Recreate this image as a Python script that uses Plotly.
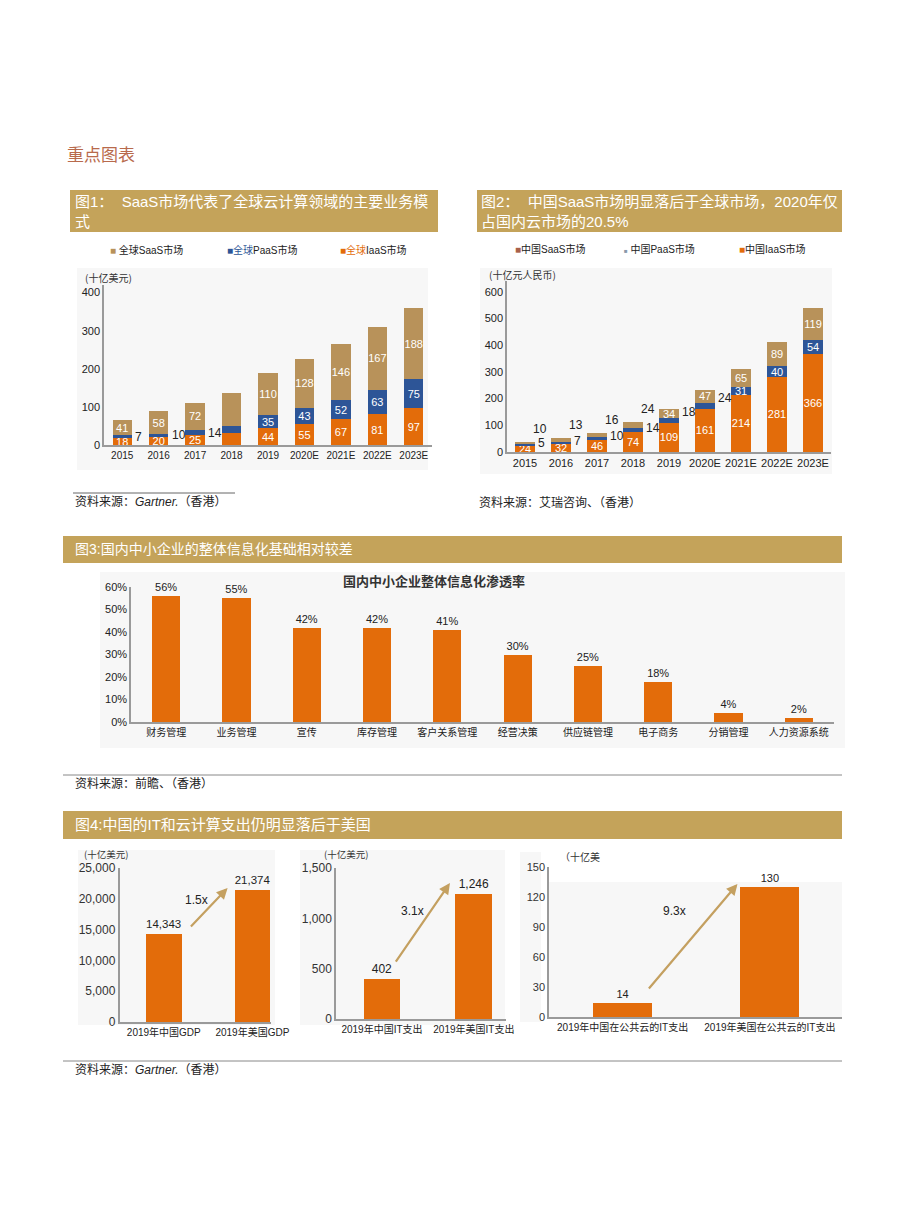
import plotly.graph_objects as go

# ---------------- data ----------------
years = ["2015", "2016", "2017", "2018", "2019", "2020E", "2021E", "2022E", "2023E"]
global_saas = [41, 58, 72, 86, 110, 128, 146, 167, 188]
global_paas = [7, 10, 14, 18, 35, 43, 52, 63, 75]
global_iaas = [18, 20, 25, 32, 44, 55, 67, 81, 97]

china_iaas = [24, 32, 46, 74, 109, 161, 214, 281, 366]
china_paas = [5, 7, 10, 14, 18, 24, 31, 40, 54]
china_saas = [10, 13, 16, 24, 34, 47, 65, 89, 119]

sme_cats = ["财务管理", "业务管理", "宣传", "库存管理", "客户关系管理", "经营决策", "供应链管理", "电子商务", "分销管理", "人力资源系统"]
sme_vals = [56, 55, 42, 42, 41, 30, 25, 18, 4, 2]
pct_ticks = [0, 10, 20, 30, 40, 50, 60]

gdp_cats = ["2019年中国GDP", "2019年美国GDP"]
gdp_vals = [14343, 21374]
it_cats = ["2019年中国IT支出", "2019年美国IT支出"]
it_vals = [402, 1246]
cloud_cats = ["2019年中国在公共云的IT支出", "2019年美国在公共云的IT支出"]
cloud_vals = [14, 130]
ratios = ["1.5x", "3.1x", "9.3x"]

# ---------------- style ----------------
W, H = 920, 1223
ORANGE = "#E36C0A"
BLUE = "#2D5597"
TAN = "#B8925A"
HEAD = "#C4A35A"
FONT = "Liberation Sans, Noto Sans CJK SC, sans-serif"
CJK = "Noto Sans CJK SC, sans-serif"
DARK = "#222222"


def fx(p):
    return p / W


def fy(p):
    return 1 - p / H


fig = go.Figure()
shapes = []
ann = []


def rect(x0, y0, x1, y1, color, layer="below"):
    shapes.append(dict(type="rect", xref="paper", yref="paper", x0=fx(x0), x1=fx(x1),
                       y0=fy(y1), y1=fy(y0), fillcolor=color, line=dict(width=0), layer=layer))


def hline(x0, x1, y, color="#888888", width=1):
    shapes.append(dict(type="line", xref="paper", yref="paper", x0=fx(x0), x1=fx(x1),
                       y0=fy(y), y1=fy(y), line=dict(color=color, width=width)))


def note(x, y, text, size=10, color=DARK, xanchor="left", yanchor="middle", family=FONT, **kw):
    d = dict(x=fx(x), y=fy(y), xref="paper", yref="paper", text=text, showarrow=False,
             xanchor=xanchor, yanchor=yanchor, font=dict(size=size, color=color, family=family))
    d.update(kw)
    ann.append(d)


# ---------------- page furniture ----------------
note(65, 153, "重点图表", size=17, color="#B86A4C", family=CJK)

rect(70, 190, 438, 232, HEAD)
note(73, 201, "图1：  SaaS市场代表了全球云计算领域的主要业务模", size=15, color="white")
note(73, 222, "式", size=15, color="white")
rect(477, 190, 842, 232, HEAD)
note(479, 201, "图2：  中国SaaS市场明显落后于全球市场，2020年仅", size=15, color="white")
note(479, 222, "占国内云市场的20.5%", size=15, color="white")

rect(63, 536, 842, 563, HEAD)
note(73, 549, "图3:国内中小企业的整体信息化基础相对较差", size=14, color="white")
rect(63, 811, 842, 839, HEAD)
note(73, 824, "图4:中国的IT和云计算支出仍明显落后于美国", size=15, color="white")

# sources
hline(73, 235, 493, "#666666")
note(73, 502, "资料来源：<i>Gartner.</i>（香港）", size=12)
note(477, 502, "资料来源：艾瑞咨询、（香港）", size=12)
hline(63, 842, 775, "#888888")
note(73, 783, "资料来源：前瞻、（香港）", size=12)
hline(63, 842, 1061, "#888888")
note(73, 1070, "资料来源：<i>Gartner.</i>（香港）", size=12)

# background panels
rect(77, 268, 428, 470, "#F7F7F7")
rect(480, 268, 832, 474, "#F7F7F7")
rect(100, 572, 845, 748, "#F7F7F7")
rect(78, 850, 275, 1025, "#F7F7F7")
rect(300, 850, 505, 1025, "#F7F7F7")
rect(520, 852, 541, 1022, "#F7F7F7")
rect(548, 882, 842, 1017, "#F7F7F7")

# ---------------- chart 1: global ----------------
txt_i = [str(v) if y != "2018" else "" for v, y in zip(global_iaas, years)]
txt_p = [str(v) if i >= 4 else "" for i, v in enumerate(global_paas)]
txt_s = [str(v) if y != "2018" else "" for v, y in zip(global_saas, years)]
common1 = dict(width=0.53, textposition="inside", insidetextanchor="middle", constraintext="none",
               textangle=0, textfont=dict(color="white", size=11, family=FONT), marker_line_width=0)
fig.add_bar(x=years, y=global_iaas, text=txt_i, marker_color=ORANGE, xaxis="x", yaxis="y", **common1)
fig.add_bar(x=years, y=global_paas, text=txt_p, marker_color=BLUE, xaxis="x", yaxis="y", **common1)
fig.add_bar(x=years, y=global_saas, text=txt_s, marker_color=TAN, xaxis="x", yaxis="y", **common1)
for i in range(3):
    ann.append(dict(x=i, y=global_iaas[i] + global_paas[i] / 2, xref="x", yref="y",
                    text=str(global_paas[i]), showarrow=False, xanchor="left", xshift=11,
                    font=dict(size=12, color=DARK, family=FONT)))

note(83, 277, "(十亿美元)", size=10, color="#333", family=CJK)
note(108, 250, "<span style='color:%s'>■</span> 全球SaaS市场" % TAN, size=10)
note(225, 250, "<span style='color:%s'>■全球</span>PaaS市场" % BLUE, size=10)
note(338, 250, "<span style='color:%s'>■全球</span>IaaS市场" % ORANGE, size=10)

# ---------------- chart 2: China ----------------
fig.add_bar(x=years, y=china_iaas, text=[str(v) for v in china_iaas], marker_color=ORANGE,
            xaxis="x2", yaxis="y2", **common1)
fig.add_bar(x=years, y=china_paas, text=[str(v) if i >= 6 else "" for i, v in enumerate(china_paas)],
            marker_color=BLUE, xaxis="x2", yaxis="y2", **common1)
fig.add_bar(x=years, y=china_saas, text=[str(v) if i >= 4 else "" for i, v in enumerate(china_saas)],
            marker_color=TAN, xaxis="x2", yaxis="y2", **common1)
for i in range(6):
    ann.append(dict(x=i, y=china_iaas[i] + china_paas[i] / 2, xref="x2", yref="y2",
                    text=str(china_paas[i]), showarrow=False, xanchor="left", xshift=11,
                    yshift=2 if i < 4 else 8, font=dict(size=12, color=DARK, family=FONT)))
for i in range(4):
    tot = china_iaas[i] + china_paas[i] + china_saas[i]
    ann.append(dict(x=i, y=tot, xref="x2", yref="y2",
                    text=str(china_saas[i]), showarrow=False, xanchor="left", yanchor="bottom",
                    xshift=6, yshift=4, font=dict(size=12, color=DARK, family=FONT)))

note(487, 274, "(十亿元人民币)", size=10, color="#333", family=CJK)
note(513, 249, "<span style='color:#A8604A'>■</span>中国SaaS市场", size=10)
note(622, 249, "<span style='color:#8899AA;font-size:6px'>■</span> 中国PaaS市场", size=10)
note(737, 249, "<span style='color:%s'>■</span>中国IaaS市场" % ORANGE, size=10)

# ---------------- chart 3: SME penetration ----------------
fig.add_bar(x=sme_cats, y=sme_vals, text=[f"{v}%" for v in sme_vals], textposition="outside",
            cliponaxis=False, width=0.4, marker_color=ORANGE, marker_line_width=0,
            textfont=dict(size=11, color=DARK, family=FONT), xaxis="x3", yaxis="y3")
note(434, 580, "<b>国内中小企业整体信息化渗透率</b>", size=13, color="#333", xanchor="center", family=CJK)

# ---------------- chart 4: China vs US ----------------
common4 = dict(width=0.4, textposition="outside", cliponaxis=False, marker_color=ORANGE,
               marker_line_width=0, textfont=dict(size=12, color=DARK, family=FONT))
fig.add_bar(x=gdp_cats, y=gdp_vals, text=[f"{v:,}" for v in gdp_vals], xaxis="x4", yaxis="y4", **common4)
fig.add_bar(x=it_cats, y=it_vals, text=[f"{v:,}" for v in it_vals], xaxis="x5", yaxis="y5", **common4)
fig.add_bar(x=cloud_cats, y=cloud_vals, text=[str(v) for v in cloud_vals], xaxis="x6", yaxis="y6",
            **{**common4, "textfont": dict(size=11, color=DARK, family=FONT)})

arrows = [("x4", "y4", 0.29, 15260, 0.72, 21750, 0.37, 19800),
          ("x5", "y5", 0.14, 556, 0.74, 1351, 0.33, 1073),
          ("x6", "y6", 0.17, 27, 0.78, 133, 0.35, 106)]
for (xa, ya, tx, ty, hx, hy, lx, ly), r in zip(arrows, ratios):
    ann.append(dict(x=hx, y=hy, xref=xa, yref=ya, ax=tx, ay=ty, axref=xa, ayref=ya, text="",
                    showarrow=True, arrowhead=2, arrowsize=1, arrowwidth=2.2, arrowcolor="#C4A060"))
    ann.append(dict(x=lx, y=ly, xref=xa, yref=ya, text=r, showarrow=False,
                    font=dict(size=12, color=DARK, family=FONT)))

note(82, 854, "(十亿美元)", size=9.5, color="#333", family=CJK)
note(322, 854, "(十亿美元)", size=9.5, color="#333", family=CJK)
note(558, 856, "（十亿美", size=10, color="#333", family=CJK)

# ---------------- axes ----------------
ax_common = dict(showgrid=False, zeroline=False, showline=True, linecolor="#9a9a9a", linewidth=1.5,
                 ticks="", fixedrange=True, automargin=False)
tick_font = dict(size=11, color=DARK, family=FONT)

fig.update_layout(
    width=W, height=H, margin=dict(l=0, r=0, t=0, b=0, pad=0, autoexpand=False),
    paper_bgcolor="white", plot_bgcolor="rgba(0,0,0,0)",
    barmode="stack", showlegend=False, font=dict(family=FONT),
    shapes=shapes, annotations=ann,
    xaxis=dict(type="category", domain=[fx(104), fx(432)], anchor="y", range=[-0.5, 8.5],
               tickfont=dict(size=10, color=DARK, family=FONT), **ax_common),
    yaxis=dict(domain=[fy(445), fy(285)], anchor="x", range=[0, 420], tickvals=[0, 100, 200, 300, 400],
               tickfont=tick_font, **ax_common),
    xaxis2=dict(type="category", domain=[fx(507), fx(831)], anchor="y2", range=[-0.5, 8.5],
                tickfont=dict(size=11, color=DARK, family=FONT), **ax_common),
    yaxis2=dict(domain=[fy(452), fy(281)], anchor="x2", range=[0, 640], tickvals=[0, 100, 200, 300, 400, 500, 600],
                tickfont=tick_font, **ax_common),
    xaxis3=dict(type="category", domain=[fx(131), fx(834)], anchor="y3", range=[-0.5, 9.5],
                tickfont=dict(size=10, color=DARK, family=CJK), **ax_common),
    yaxis3=dict(domain=[fy(722), fy(587)], anchor="x3", range=[0, 60], tickvals=pct_ticks,
                ticktext=[f"{t}%" for t in pct_ticks], tickfont=tick_font, **ax_common),
    xaxis4=dict(type="category", domain=[fx(119.5), fx(271)], anchor="y4", range=[-0.5, 1.21],
                tickfont=dict(size=10, color=DARK, family=FONT), **ax_common),
    yaxis4=dict(domain=[fy(1022), fy(868)], anchor="x4", range=[0, 25000], dtick=5000, tickformat=",",
                tickfont=dict(size=12, color="#333", family=FONT), **ax_common),
    xaxis5=dict(type="category", domain=[fx(336), fx(506)], anchor="y5", range=[-0.5, 1.35],
                tickfont=dict(size=10, color=DARK, family=FONT), **ax_common),
    yaxis5=dict(domain=[fy(1019), fy(868)], anchor="x5", range=[0, 1500], dtick=500, tickformat=",",
                tickfont=dict(size=12, color="#333", family=FONT), **ax_common),
    xaxis6=dict(type="category", domain=[fx(549), fx(842)], anchor="y6", range=[-0.5, 1.49],
                tickfont=dict(size=10, color=DARK, family=FONT), **ax_common),
    yaxis6=dict(domain=[fy(1017), fy(867)], anchor="x6", range=[0, 150], dtick=30,
                tickfont=dict(size=11, color="#333", family=FONT), **ax_common),
)

fig.write_html("out.html", config={"displayModeBar": False},
               post_script="document.body.style.margin='0px';")
